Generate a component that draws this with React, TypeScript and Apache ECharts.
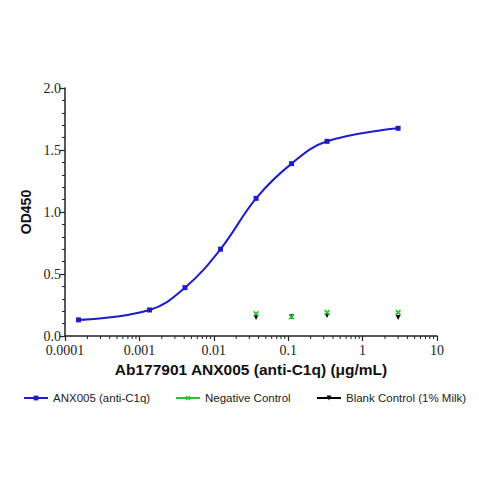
import React, { useEffect, useRef } from "react";
import * as echarts from "echarts";

// Blue series: ANX005 (anti-C1q)
const anxConc = [0.000152, 0.00137, 0.0041, 0.0123, 0.037, 0.111, 0.333, 3];
const anxOD = [0.13, 0.21, 0.39, 0.70, 1.11, 1.39, 1.57, 1.675];

// Controls
const ctrlConc = [0.037, 0.111, 0.333, 3];
const negOD = [0.18, 0.155, 0.19, 0.19];
const blankOD = [0.15, 0.155, 0.165, 0.15];

const xTickLabels = ["0.0001", "0.001", "0.01", "0.1", "1", "10"];
const xMinorMultipliers = [2, 3, 4, 5, 6, 7, 8, 9];
const xDecades = [-4, -3, -2, -1, 0];

const seriesNames = ["ANX005 (anti-C1q)", "Negative Control", "Blank Control (1% Milk)"];
const colors = ["#1c1cc8", "#2fbf2f", "#000000"];

const serif = "'Liberation Serif', 'Times New Roman', serif";
const sans = "'Liberation Sans', Arial, sans-serif";

export default function App() {
  const ref = useRef<HTMLDivElement>(null);
  useEffect(() => {
    if (!ref.current) return;
    const chart = echarts.init(ref.current, null, { renderer: "svg" });
    const minorTicks: number[] = [];
    xDecades.forEach((d) => xMinorMultipliers.forEach((m) => minorTicks.push(m * Math.pow(10, d))));
    const crossPath = "path://M0,2L2,0L5,3L8,0L10,2L7,5L10,8L8,10L5,7L2,10L0,8L3,5Z";
    const legendBase = {
      top: 387,
      itemWidth: 24,
      itemHeight: 6,
      textStyle: { fontFamily: sans, fontSize: 11.5, color: "#222" },
      selectedMode: false,
    };
    chart.setOption({
      animation: false,
      backgroundColor: "#fff",
      grid: { left: 65, top: 88, width: 372, height: 248, containLabel: false },
      xAxis: {
        type: "log",
        logBase: 10,
        min: 0.0001,
        max: 10,
        splitNumber: 5,
        name: "Ab177901 ANX005 (anti-C1q) (μg/mL)",
        nameLocation: "middle",
        nameGap: 24,
        nameTextStyle: { fontFamily: sans, fontWeight: "bold", fontSize: 15.5, color: "#111" },
        axisLine: { show: true, onZero: false, lineStyle: { color: "#222", width: 1.5 } },
        axisTick: { show: true, length: 5, lineStyle: { color: "#222", width: 1.2 } },
        splitLine: { show: false },
        axisLabel: {
          margin: 7,
          fontFamily: serif,
          fontSize: 14,
          color: "#222",
          formatter: (v: number) => xTickLabels[Math.round(Math.log10(v)) + 4] ?? "",
        },
      },
      yAxis: {
        type: "value",
        min: 0,
        max: 2,
        interval: 0.5,
        name: "OD450",
        nameLocation: "middle",
        nameGap: 30,
        nameTextStyle: { fontFamily: sans, fontWeight: "bold", fontSize: 14, color: "#111" },
        axisLine: { show: true, lineStyle: { color: "#222", width: 1.5 } },
        axisTick: { show: true, length: 5, lineStyle: { color: "#222", width: 1.2 } },
        minorTick: { show: true, splitNumber: 5, length: 3, lineStyle: { color: "#222", width: 1 } },
        splitLine: { show: false },
        axisLabel: {
          margin: 4,
          fontFamily: serif,
          fontSize: 14,
          color: "#222",
          formatter: (v: number) => v.toFixed(1),
        },
      },
      legend: [
        {
          ...legendBase,
          left: 18,
          data: [{ name: seriesNames[0], lineStyle: { width: 2, color: colors[0] } }],
        },
        {
          ...legendBase,
          left: 170,
          data: [{ name: seriesNames[1], lineStyle: { opacity: 1, width: 2, color: colors[1] } }],
        },
        {
          ...legendBase,
          left: 311,
          data: [{ name: seriesNames[2], lineStyle: { opacity: 1, width: 2, color: colors[2] } }],
        },
      ],
      series: [
        {
          name: seriesNames[0],
          type: "line",
          data: anxConc.map((c, i) => [c, anxOD[i]]),
          smooth: 0.4,
          symbol: "rect",
          symbolSize: 5,
          color: colors[0],
          lineStyle: { color: colors[0], width: 2 },
          itemStyle: { color: colors[0] },
          z: 3,
        },
        {
          name: seriesNames[1],
          type: "line",
          data: ctrlConc.map((c, i) => [c, negOD[i]]),
          symbol: crossPath,
          symbolSize: 6,
          color: colors[1],
          lineStyle: { opacity: 0, width: 2, color: colors[1] },
          itemStyle: { color: colors[1] },
          z: 4,
        },
        {
          name: seriesNames[2],
          type: "line",
          data: ctrlConc.map((c, i) => [c, blankOD[i]]),
          symbol: "triangle",
          symbolRotate: 180,
          symbolSize: 5,
          color: colors[2],
          lineStyle: { opacity: 0, width: 2, color: colors[2] },
          itemStyle: { color: colors[2] },
          z: 3,
        },
        {
          type: "custom",
          silent: true,
          clip: false,
          data: minorTicks.map((v) => [v]),
          encode: { x: 0 },
          renderItem: (params: any, api: any) => {
            const p = api.coord([api.value(0), 0]);
            return {
              type: "line",
              shape: { x1: p[0], y1: p[1], x2: p[0], y2: p[1] + 3 },
              style: { stroke: "#222", lineWidth: 1 },
            };
          },
          z: 1,
        },
      ],
    });
    return () => chart.dispose();
  }, []);
  return (
    <div
      ref={ref}
      style={{ position: "fixed", left: 0, top: 0, width: 479, height: 479, background: "#fff" }}
    />
  );
}
